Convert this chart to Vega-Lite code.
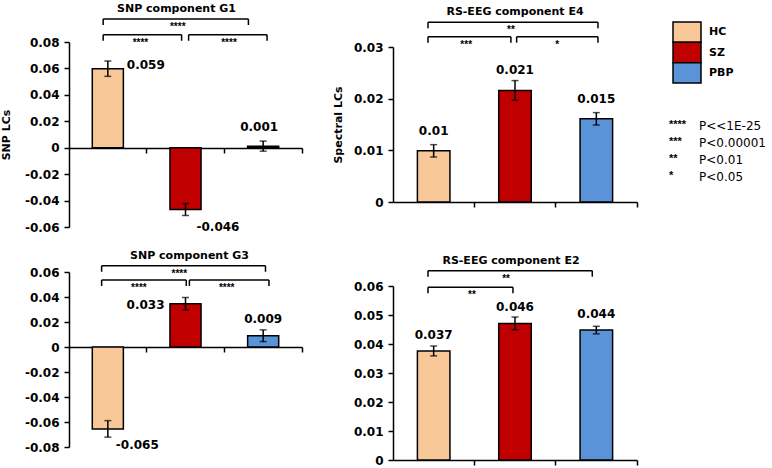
{
"$schema": "https://vega.github.io/schema/vega-lite/v6.json",
"background": "white",
"padding": {"left": 0, "top": 3, "right": 0, "bottom": 0},
"autosize": {"type": "pad"},
"datasets": {
 "groups": [{"group":"HC"},{"group":"SZ"},{"group":"PBP"}],
 "g1": [{"group":"HC","value":0.0598,"se":0.0058,"label":"0.059"},{"group":"SZ","value":-0.0468,"se":0.0045,"label":"-0.046"},{"group":"PBP","value":0.0012,"se":0.0038,"label":"0.001"}],
 "g1_sig": [{"from":"HC","to":"PBP","value":0.0974,"stars":"****"},{"from":"HC","to":"SZ","value":0.0855,"stars":"****"},{"from":"SZ","to":"PBP","value":0.0855,"stars":"****"}],
 "e4": [{"group":"HC","value":0.0099,"se":0.0012,"label":"0.01"},{"group":"SZ","value":0.0216,"se":0.0019,"label":"0.021"},{"group":"PBP","value":0.0161,"se":0.0012,"label":"0.015"}],
 "e4_sig": [{"from":"HC","to":"PBP","value":0.0348,"stars":"**"},{"from":"HC","to":"SZ","value":0.032,"stars":"***"},{"from":"SZ","to":"PBP","value":0.032,"stars":"*"}],
 "g3": [{"group":"HC","value":-0.0655,"se":0.0066,"label":"-0.065"},{"group":"SZ","value":0.0346,"se":0.005,"label":"0.033"},{"group":"PBP","value":0.009,"se":0.0047,"label":"0.009"}],
 "g3_sig": [{"from":"HC","to":"PBP","value":0.065,"stars":"****"},{"from":"HC","to":"SZ","value":0.0536,"stars":"****"},{"from":"SZ","to":"PBP","value":0.0536,"stars":"****"}],
 "e2": [{"group":"HC","value":0.0376,"se":0.0017,"label":"0.037"},{"group":"SZ","value":0.0471,"se":0.0022,"label":"0.046"},{"group":"PBP","value":0.0448,"se":0.0013,"label":"0.044"}],
 "e2_sig": [{"from":"HC","to":"PBP","value":0.0653,"stars":"**"},{"from":"HC","to":"SZ","value":0.05955,"stars":"**"}],
 "sigkey": [{"stars":"****","label":"P<<1E-25"},{"stars":"***","label":"P<0.00001"},{"stars":"**","label":"P<0.01"},{"stars":"*","label":"P<0.05"}]
},
"config": {
 "view": {"stroke": null},
 "axis": {"labelFont":"DejaVu Sans","labelFontWeight":"bold","labelFontSize":12,"labelColor":"black","labelPadding":5,"domainColor":"black","domainWidth":1.5,"tickColor":"black","tickWidth":1.5,"tickSize":5,"grid":false,"titleFont":"DejaVu Sans","titleFontWeight":"bold","titleFontSize":11,"titleColor":"black"},
 "title": {"font":"DejaVu Sans","fontWeight":"bold","fontSize":11,"color":"black","anchor":"middle"}
},
"bounds": "flush",
"columns": 3,
"spacing": {"row": 45, "column": 91},
"concat": [
   {"width":233,"height":185,"title":{"text":"SNP component G1","offset":4,"dx":-9},
    "encoding":{"y":{"field":"value","type":"quantitative","scale":{"domain":[-0.06,0.08],"nice":false},"axis":{"values":[-0.06,-0.04,-0.02,0,0.02,0.04,0.06,0.08],"format":"~g","labelExpr":"replace(datum.label,'−','-')","title":"SNP LCs","titlePadding":13}}},
    "layer":[
     {"data":{"name":"g1"},"mark":{"type":"bar","width":{"band":0.4},"stroke":"black","strokeWidth":1.5},
      "encoding":{"x":{"field":"group","type":"nominal","title":null,"scale":{"domain":["HC","SZ","PBP"],"paddingInner":0,"paddingOuter":0},"axis":{"labels":false,"title":null,"bandPosition":1,"offset":-79}},
       "color":{"field":"group","type":"nominal","scale":{"domain":["HC","SZ","PBP"],"range":["#F9C898","#C00000","#5B93D8"]},"legend":null}}},
     {"data":{"name":"g1"},"mark":{"type":"errorbar","ticks":{"size":7},"color":"black","thickness":1.5},
      "encoding":{"x":{"field":"group","type":"nominal","title":null,"scale":{"domain":["HC","SZ","PBP"],"paddingInner":0,"paddingOuter":0}},"yError":{"field":"se"}}},
     {"data":{"name":"g1"},"transform":[{"filter":"datum.group=='HC'"}],"mark":{"type":"text","align":"left","dx":19,"dy":0,"baseline":"alphabetic","font":"DejaVu Sans","fontWeight":"bold","fontSize":12},
      "encoding":{"x":{"field":"group","type":"nominal","title":null,"scale":{"domain":["HC","SZ","PBP"],"paddingInner":0,"paddingOuter":0}},"text":{"field":"label"}}},
     {"data":{"name":"g1"},"transform":[{"filter":"datum.group=='SZ'"}],"mark":{"type":"text","align":"left","dx":11,"dy":21,"baseline":"alphabetic","font":"DejaVu Sans","fontWeight":"bold","fontSize":12},
      "encoding":{"x":{"field":"group","type":"nominal","title":null,"scale":{"domain":["HC","SZ","PBP"],"paddingInner":0,"paddingOuter":0}},"text":{"field":"label"}}},
     {"data":{"name":"g1"},"transform":[{"filter":"datum.group=='PBP'"}],"mark":{"type":"text","align":"center","dx":-4,"dy":-15,"baseline":"alphabetic","font":"DejaVu Sans","fontWeight":"bold","fontSize":12},
      "encoding":{"x":{"field":"group","type":"nominal","title":null,"scale":{"domain":["HC","SZ","PBP"],"paddingInner":0,"paddingOuter":0}},"text":{"field":"label"}}},
     {"data":{"name":"g1_sig"},"transform":[{"filter":"datum.from=='HC' && datum.to=='PBP'"}],"layer":[
      {"mark":{"type":"rule","color":"black","strokeWidth":1.5},"encoding":{"x":{"field":"from","type":"nominal","bandPosition":0.44,"title":null,"scale":{"domain":["HC","SZ","PBP"],"paddingInner":0,"paddingOuter":0}},"x2":{"field":"to","bandPosition":0.31}}},
      {"mark":{"type":"rule","color":"black","strokeWidth":1.5,"y2Offset":6},"encoding":{"x":{"field":"from","type":"nominal","bandPosition":0.44,"title":null,"scale":{"domain":["HC","SZ","PBP"],"paddingInner":0,"paddingOuter":0}},"y2":{"field":"value"}}},
      {"mark":{"type":"rule","color":"black","strokeWidth":1.5,"y2Offset":6},"encoding":{"x":{"field":"to","type":"nominal","bandPosition":0.31,"title":null,"scale":{"domain":["HC","SZ","PBP"],"paddingInner":0,"paddingOuter":0}},"y2":{"field":"value"}}},
      {"mark":{"type":"text","font":"Liberation Sans","fontWeight":"bold","fontSize":10,"dy":11,"baseline":"alphabetic"},"encoding":{"x":{"field":"from","type":"nominal","bandPosition":1.4,"title":null,"scale":{"domain":["HC","SZ","PBP"],"paddingInner":0,"paddingOuter":0}},"text":{"field":"stars"}}}
     ]},
     {"data":{"name":"g1_sig"},"transform":[{"filter":"datum.from=='HC' && datum.to=='SZ'"}],"layer":[
      {"mark":{"type":"rule","color":"black","strokeWidth":1.5},"encoding":{"x":{"field":"from","type":"nominal","bandPosition":0.44,"title":null,"scale":{"domain":["HC","SZ","PBP"],"paddingInner":0,"paddingOuter":0}},"x2":{"field":"to","bandPosition":0.45}}},
      {"mark":{"type":"rule","color":"black","strokeWidth":1.5,"y2Offset":6},"encoding":{"x":{"field":"from","type":"nominal","bandPosition":0.44,"title":null,"scale":{"domain":["HC","SZ","PBP"],"paddingInner":0,"paddingOuter":0}},"y2":{"field":"value"}}},
      {"mark":{"type":"rule","color":"black","strokeWidth":1.5,"y2Offset":6},"encoding":{"x":{"field":"to","type":"nominal","bandPosition":0.45,"title":null,"scale":{"domain":["HC","SZ","PBP"],"paddingInner":0,"paddingOuter":0}},"y2":{"field":"value"}}},
      {"mark":{"type":"text","font":"Liberation Sans","fontWeight":"bold","fontSize":10,"dy":11,"baseline":"alphabetic"},"encoding":{"x":{"field":"from","type":"nominal","bandPosition":0.92,"title":null,"scale":{"domain":["HC","SZ","PBP"],"paddingInner":0,"paddingOuter":0}},"text":{"field":"stars"}}}
     ]},
     {"data":{"name":"g1_sig"},"transform":[{"filter":"datum.from=='SZ' && datum.to=='PBP'"}],"layer":[
      {"mark":{"type":"rule","color":"black","strokeWidth":1.5},"encoding":{"x":{"field":"from","type":"nominal","bandPosition":0.54,"title":null,"scale":{"domain":["HC","SZ","PBP"],"paddingInner":0,"paddingOuter":0}},"x2":{"field":"to","bandPosition":0.55}}},
      {"mark":{"type":"rule","color":"black","strokeWidth":1.5,"y2Offset":6},"encoding":{"x":{"field":"from","type":"nominal","bandPosition":0.54,"title":null,"scale":{"domain":["HC","SZ","PBP"],"paddingInner":0,"paddingOuter":0}},"y2":{"field":"value"}}},
      {"mark":{"type":"rule","color":"black","strokeWidth":1.5,"y2Offset":6},"encoding":{"x":{"field":"to","type":"nominal","bandPosition":0.55,"title":null,"scale":{"domain":["HC","SZ","PBP"],"paddingInner":0,"paddingOuter":0}},"y2":{"field":"value"}}},
      {"mark":{"type":"text","font":"Liberation Sans","fontWeight":"bold","fontSize":10,"dy":11,"baseline":"alphabetic"},"encoding":{"x":{"field":"from","type":"nominal","bandPosition":1.06,"title":null,"scale":{"domain":["HC","SZ","PBP"],"paddingInner":0,"paddingOuter":0}},"text":{"field":"stars"}}}
     ]}
    ]},
    {"width":244,"height":160,"title":{"text":"RS-EEG component E4","offset":4},
     "encoding":{"y":{"field":"value","type":"quantitative","scale":{"domain":[0,0.03],"nice":false,"range":[160,5]},"axis":{"values":[0,0.01,0.02,0.03],"format":"~g","title":"Spectral LCs","titlePadding":10}}},
     "layer":[
      {"data":{"name":"e4"},"mark":{"type":"bar","width":{"band":0.4},"stroke":"black","strokeWidth":1.5},
       "encoding":{"x":{"field":"group","type":"nominal","title":null,"scale":{"domain":["HC","SZ","PBP"],"paddingInner":0,"paddingOuter":0},"axis":{"labels":false,"title":null,"bandPosition":1}},
        "color":{"field":"group","type":"nominal","scale":{"domain":["HC","SZ","PBP"],"range":["#F9C898","#C00000","#5B93D8"]},"legend":null}}},
      {"data":{"name":"e4"},"mark":{"type":"errorbar","ticks":{"size":7},"color":"black","thickness":1.5},
       "encoding":{"x":{"field":"group","type":"nominal","title":null,"scale":{"domain":["HC","SZ","PBP"],"paddingInner":0,"paddingOuter":0}},"yError":{"field":"se"}}},
      {"data":{"name":"e4"},"mark":{"type":"text","align":"center","dy":-16,"baseline":"alphabetic","font":"DejaVu Sans","fontWeight":"bold","fontSize":12},
       "encoding":{"x":{"field":"group","type":"nominal","title":null,"scale":{"domain":["HC","SZ","PBP"],"paddingInner":0,"paddingOuter":0}},"text":{"field":"label"}}},
      {"data":{"name":"e4_sig"},"transform":[{"filter":"datum.from=='HC' && datum.to=='PBP'"}],"layer":[
       {"mark":{"type":"rule","color":"black","strokeWidth":1.5},"encoding":{"x":{"field":"from","type":"nominal","bandPosition":0.43,"title":null,"scale":{"domain":["HC","SZ","PBP"],"paddingInner":0,"paddingOuter":0}},"x2":{"field":"to","bandPosition":0.52}}},
       {"mark":{"type":"rule","color":"black","strokeWidth":1.5,"y2Offset":6},"encoding":{"x":{"field":"from","type":"nominal","bandPosition":0.43,"title":null,"scale":{"domain":["HC","SZ","PBP"],"paddingInner":0,"paddingOuter":0}},"y2":{"field":"value"}}},
       {"mark":{"type":"rule","color":"black","strokeWidth":1.5,"y2Offset":6},"encoding":{"x":{"field":"to","type":"nominal","bandPosition":0.52,"title":null,"scale":{"domain":["HC","SZ","PBP"],"paddingInner":0,"paddingOuter":0}},"y2":{"field":"value"}}},
       {"mark":{"type":"text","font":"Liberation Sans","fontWeight":"bold","fontSize":10,"dy":11,"baseline":"alphabetic"},"encoding":{"x":{"field":"from","type":"nominal","bandPosition":1.45,"title":null,"scale":{"domain":["HC","SZ","PBP"],"paddingInner":0,"paddingOuter":0}},"text":{"field":"stars"}}}
      ]},
      {"data":{"name":"e4_sig"},"transform":[{"filter":"datum.from=='HC' && datum.to=='SZ'"}],"layer":[
       {"mark":{"type":"rule","color":"black","strokeWidth":1.5},"encoding":{"x":{"field":"from","type":"nominal","bandPosition":0.43,"title":null,"scale":{"domain":["HC","SZ","PBP"],"paddingInner":0,"paddingOuter":0}},"x2":{"field":"to","bandPosition":0.45}}},
       {"mark":{"type":"rule","color":"black","strokeWidth":1.5,"y2Offset":6},"encoding":{"x":{"field":"from","type":"nominal","bandPosition":0.43,"title":null,"scale":{"domain":["HC","SZ","PBP"],"paddingInner":0,"paddingOuter":0}},"y2":{"field":"value"}}},
       {"mark":{"type":"rule","color":"black","strokeWidth":1.5,"y2Offset":6},"encoding":{"x":{"field":"to","type":"nominal","bandPosition":0.45,"title":null,"scale":{"domain":["HC","SZ","PBP"],"paddingInner":0,"paddingOuter":0}},"y2":{"field":"value"}}},
       {"mark":{"type":"text","font":"Liberation Sans","fontWeight":"bold","fontSize":10,"dy":11,"baseline":"alphabetic"},"encoding":{"x":{"field":"from","type":"nominal","bandPosition":0.9,"title":null,"scale":{"domain":["HC","SZ","PBP"],"paddingInner":0,"paddingOuter":0}},"text":{"field":"stars"}}}
      ]},
      {"data":{"name":"e4_sig"},"transform":[{"filter":"datum.from=='SZ' && datum.to=='PBP'"}],"layer":[
       {"mark":{"type":"rule","color":"black","strokeWidth":1.5},"encoding":{"x":{"field":"from","type":"nominal","bandPosition":0.52,"title":null,"scale":{"domain":["HC","SZ","PBP"],"paddingInner":0,"paddingOuter":0}},"x2":{"field":"to","bandPosition":0.52}}},
       {"mark":{"type":"rule","color":"black","strokeWidth":1.5,"y2Offset":6},"encoding":{"x":{"field":"from","type":"nominal","bandPosition":0.52,"title":null,"scale":{"domain":["HC","SZ","PBP"],"paddingInner":0,"paddingOuter":0}},"y2":{"field":"value"}}},
       {"mark":{"type":"rule","color":"black","strokeWidth":1.5,"y2Offset":6},"encoding":{"x":{"field":"to","type":"nominal","bandPosition":0.52,"title":null,"scale":{"domain":["HC","SZ","PBP"],"paddingInner":0,"paddingOuter":0}},"y2":{"field":"value"}}},
       {"mark":{"type":"text","font":"Liberation Sans","fontWeight":"bold","fontSize":10,"dy":11,"baseline":"alphabetic"},"encoding":{"x":{"field":"from","type":"nominal","bandPosition":1.02,"title":null,"scale":{"domain":["HC","SZ","PBP"],"paddingInner":0,"paddingOuter":0}},"text":{"field":"stars"}}}
      ]}
     ]},
    {"width":30,"height":185,
     "resolve":{"scale":{"x":"independent","y":"independent"}},
     "layer":[
      {"data":{"name":"groups"},
       "encoding":{"y":{"field":"group","type":"nominal","sort":["HC","SZ","PBP"],"scale":{"range":[-20,41],"paddingInner":0,"paddingOuter":0},"axis":null}},
       "layer":[
        {"mark":{"type":"rect","stroke":"black","strokeWidth":1.5},"encoding":{"x":{"datum":0,"type":"quantitative","scale":{"domain":[0,1],"range":[-55,-27]},"axis":null},"x2":{"datum":1},"color":{"field":"group","type":"nominal","scale":{"domain":["HC","SZ","PBP"],"range":["#F9C898","#C00000","#5B93D8"]},"legend":null}}},
        {"mark":{"type":"text","align":"left","baseline":"middle","dx":8,"font":"DejaVu Sans","fontWeight":"bold","fontSize":11},"encoding":{"x":{"datum":1,"type":"quantitative","scale":{"domain":[0,1],"range":[-55,-27]},"axis":null},"text":{"field":"group"}}}
       ]},
      {"data":{"name":"sigkey"},
       "encoding":{"y":{"field":"label","type":"nominal","sort":null,"scale":{"range":[75,144],"paddingInner":0,"paddingOuter":0},"axis":null}},
       "layer":[
        {"mark":{"type":"text","align":"left","baseline":"middle","font":"Liberation Sans","fontWeight":"bold","fontSize":11,"dy":-1},"encoding":{"x":{"datum":0,"type":"quantitative","scale":{"domain":[0,1],"range":[-59,-29]},"axis":null},"text":{"field":"stars"}}},
        {"mark":{"type":"text","align":"left","baseline":"middle","font":"DejaVu Sans","fontSize":12},"encoding":{"x":{"datum":1,"type":"quantitative","scale":{"domain":[0,1],"range":[-59,-29]},"axis":null},"text":{"field":"label"}}}
       ]}
     ]},
   {"width":233,"height":175,"title":{"text":"SNP component G3","offset":4,"dx":4},
    "encoding":{"y":{"field":"value","type":"quantitative","scale":{"domain":[-0.08,0.06],"nice":false},"axis":{"values":[-0.08,-0.06,-0.04,-0.02,0,0.02,0.04,0.06],"format":"~g","labelExpr":"replace(datum.label,'−','-')","title":null}}},
    "layer":[
     {"data":{"name":"g3"},"mark":{"type":"bar","width":{"band":0.4},"stroke":"black","strokeWidth":1.5},
      "encoding":{"x":{"field":"group","type":"nominal","title":null,"scale":{"domain":["HC","SZ","PBP"],"paddingInner":0,"paddingOuter":0},"axis":{"labels":false,"title":null,"bandPosition":1,"offset":-100}},
       "color":{"field":"group","type":"nominal","scale":{"domain":["HC","SZ","PBP"],"range":["#F9C898","#C00000","#5B93D8"]},"legend":null}}},
     {"data":{"name":"g3"},"mark":{"type":"errorbar","ticks":{"size":7},"color":"black","thickness":1.5},
      "encoding":{"x":{"field":"group","type":"nominal","title":null,"scale":{"domain":["HC","SZ","PBP"],"paddingInner":0,"paddingOuter":0}},"yError":{"field":"se"}}},
     {"data":{"name":"g3"},"transform":[{"filter":"datum.group=='HC'"}],"mark":{"type":"text","align":"left","dx":8,"dy":20,"baseline":"alphabetic","font":"DejaVu Sans","fontWeight":"bold","fontSize":12},
      "encoding":{"x":{"field":"group","type":"nominal","title":null,"scale":{"domain":["HC","SZ","PBP"],"paddingInner":0,"paddingOuter":0}},"text":{"field":"label"}}},
     {"data":{"name":"g3"},"transform":[{"filter":"datum.group=='SZ'"}],"mark":{"type":"text","align":"right","dx":-21,"dy":5,"baseline":"alphabetic","font":"DejaVu Sans","fontWeight":"bold","fontSize":12},
      "encoding":{"x":{"field":"group","type":"nominal","title":null,"scale":{"domain":["HC","SZ","PBP"],"paddingInner":0,"paddingOuter":0}},"text":{"field":"label"}}},
     {"data":{"name":"g3"},"transform":[{"filter":"datum.group=='PBP'"}],"mark":{"type":"text","align":"center","dx":0,"dy":-13,"baseline":"alphabetic","font":"DejaVu Sans","fontWeight":"bold","fontSize":12},
      "encoding":{"x":{"field":"group","type":"nominal","title":null,"scale":{"domain":["HC","SZ","PBP"],"paddingInner":0,"paddingOuter":0}},"text":{"field":"label"}}},
     {"data":{"name":"g3_sig"},"transform":[{"filter":"datum.from=='HC' && datum.to=='PBP'"}],"layer":[
      {"mark":{"type":"rule","color":"black","strokeWidth":1.5},"encoding":{"x":{"field":"from","type":"nominal","bandPosition":0.42,"title":null,"scale":{"domain":["HC","SZ","PBP"],"paddingInner":0,"paddingOuter":0}},"x2":{"field":"to","bandPosition":0.53}}},
      {"mark":{"type":"rule","color":"black","strokeWidth":1.5,"y2Offset":6},"encoding":{"x":{"field":"from","type":"nominal","bandPosition":0.42,"title":null,"scale":{"domain":["HC","SZ","PBP"],"paddingInner":0,"paddingOuter":0}},"y2":{"field":"value"}}},
      {"mark":{"type":"rule","color":"black","strokeWidth":1.5,"y2Offset":6},"encoding":{"x":{"field":"to","type":"nominal","bandPosition":0.53,"title":null,"scale":{"domain":["HC","SZ","PBP"],"paddingInner":0,"paddingOuter":0}},"y2":{"field":"value"}}},
      {"mark":{"type":"text","font":"Liberation Sans","fontWeight":"bold","fontSize":10,"dy":11,"baseline":"alphabetic"},"encoding":{"x":{"field":"from","type":"nominal","bandPosition":1.42,"title":null,"scale":{"domain":["HC","SZ","PBP"],"paddingInner":0,"paddingOuter":0}},"text":{"field":"stars"}}}
     ]},
     {"data":{"name":"g3_sig"},"transform":[{"filter":"datum.from=='HC' && datum.to=='SZ'"}],"layer":[
      {"mark":{"type":"rule","color":"black","strokeWidth":1.5},"encoding":{"x":{"field":"from","type":"nominal","bandPosition":0.42,"title":null,"scale":{"domain":["HC","SZ","PBP"],"paddingInner":0,"paddingOuter":0}},"x2":{"field":"to","bandPosition":0.51}}},
      {"mark":{"type":"rule","color":"black","strokeWidth":1.5,"y2Offset":6},"encoding":{"x":{"field":"from","type":"nominal","bandPosition":0.42,"title":null,"scale":{"domain":["HC","SZ","PBP"],"paddingInner":0,"paddingOuter":0}},"y2":{"field":"value"}}},
      {"mark":{"type":"rule","color":"black","strokeWidth":1.5,"y2Offset":6},"encoding":{"x":{"field":"to","type":"nominal","bandPosition":0.51,"title":null,"scale":{"domain":["HC","SZ","PBP"],"paddingInner":0,"paddingOuter":0}},"y2":{"field":"value"}}},
      {"mark":{"type":"text","font":"Liberation Sans","fontWeight":"bold","fontSize":10,"dy":11,"baseline":"alphabetic"},"encoding":{"x":{"field":"from","type":"nominal","bandPosition":0.9,"title":null,"scale":{"domain":["HC","SZ","PBP"],"paddingInner":0,"paddingOuter":0}},"text":{"field":"stars"}}}
     ]},
     {"data":{"name":"g3_sig"},"transform":[{"filter":"datum.from=='SZ' && datum.to=='PBP'"}],"layer":[
      {"mark":{"type":"rule","color":"black","strokeWidth":1.5},"encoding":{"x":{"field":"from","type":"nominal","bandPosition":0.55,"title":null,"scale":{"domain":["HC","SZ","PBP"],"paddingInner":0,"paddingOuter":0}},"x2":{"field":"to","bandPosition":0.575}}},
      {"mark":{"type":"rule","color":"black","strokeWidth":1.5,"y2Offset":6},"encoding":{"x":{"field":"from","type":"nominal","bandPosition":0.55,"title":null,"scale":{"domain":["HC","SZ","PBP"],"paddingInner":0,"paddingOuter":0}},"y2":{"field":"value"}}},
      {"mark":{"type":"rule","color":"black","strokeWidth":1.5,"y2Offset":6},"encoding":{"x":{"field":"to","type":"nominal","bandPosition":0.575,"title":null,"scale":{"domain":["HC","SZ","PBP"],"paddingInner":0,"paddingOuter":0}},"y2":{"field":"value"}}},
      {"mark":{"type":"text","font":"Liberation Sans","fontWeight":"bold","fontSize":10,"dy":11,"baseline":"alphabetic"},"encoding":{"x":{"field":"from","type":"nominal","bandPosition":1.03,"title":null,"scale":{"domain":["HC","SZ","PBP"],"paddingInner":0,"paddingOuter":0}},"text":{"field":"stars"}}}
     ]}
    ]},
   {"width":244,"height":188,"title":{"text":"RS-EEG component E2","offset":4,"dx":-4},
    "encoding":{"y":{"field":"value","type":"quantitative","scale":{"domain":[0,0.06],"nice":false,"range":[188,14]},"axis":{"values":[0,0.01,0.02,0.03,0.04,0.05,0.06],"format":"~g","title":null}}},
    "layer":[
     {"data":{"name":"e2"},"mark":{"type":"bar","width":{"band":0.4},"stroke":"black","strokeWidth":1.5},
      "encoding":{"x":{"field":"group","type":"nominal","title":null,"scale":{"domain":["HC","SZ","PBP"],"paddingInner":0,"paddingOuter":0},"axis":{"labels":false,"title":null,"bandPosition":1}},
       "color":{"field":"group","type":"nominal","scale":{"domain":["HC","SZ","PBP"],"range":["#F9C898","#C00000","#5B93D8"]},"legend":null}}},
     {"data":{"name":"e2"},"mark":{"type":"errorbar","ticks":{"size":7},"color":"black","thickness":1.5},
      "encoding":{"x":{"field":"group","type":"nominal","title":null,"scale":{"domain":["HC","SZ","PBP"],"paddingInner":0,"paddingOuter":0}},"yError":{"field":"se"}}},
     {"data":{"name":"e2"},"mark":{"type":"text","align":"center","dy":-12,"baseline":"alphabetic","font":"DejaVu Sans","fontWeight":"bold","fontSize":12},
      "encoding":{"x":{"field":"group","type":"nominal","title":null,"scale":{"domain":["HC","SZ","PBP"],"paddingInner":0,"paddingOuter":0}},"text":{"field":"label"}}},
     {"data":{"name":"e2_sig"},"transform":[{"filter":"datum.from=='HC' && datum.to=='PBP'"}],"layer":[
      {"mark":{"type":"rule","color":"black","strokeWidth":1.5},"encoding":{"x":{"field":"from","type":"nominal","bandPosition":0.43,"title":null,"scale":{"domain":["HC","SZ","PBP"],"paddingInner":0,"paddingOuter":0}},"x2":{"field":"to","bandPosition":0.45}}},
      {"mark":{"type":"rule","color":"black","strokeWidth":1.5,"y2Offset":6},"encoding":{"x":{"field":"from","type":"nominal","bandPosition":0.43,"title":null,"scale":{"domain":["HC","SZ","PBP"],"paddingInner":0,"paddingOuter":0}},"y2":{"field":"value"}}},
      {"mark":{"type":"rule","color":"black","strokeWidth":1.5,"y2Offset":6},"encoding":{"x":{"field":"to","type":"nominal","bandPosition":0.45,"title":null,"scale":{"domain":["HC","SZ","PBP"],"paddingInner":0,"paddingOuter":0}},"y2":{"field":"value"}}},
      {"mark":{"type":"text","font":"Liberation Sans","fontWeight":"bold","fontSize":10,"dy":11,"baseline":"alphabetic"},"encoding":{"x":{"field":"from","type":"nominal","bandPosition":1.39,"title":null,"scale":{"domain":["HC","SZ","PBP"],"paddingInner":0,"paddingOuter":0}},"text":{"field":"stars"}}}
     ]},
     {"data":{"name":"e2_sig"},"transform":[{"filter":"datum.from=='HC' && datum.to=='SZ'"}],"layer":[
      {"mark":{"type":"rule","color":"black","strokeWidth":1.5},"encoding":{"x":{"field":"from","type":"nominal","bandPosition":0.43,"title":null,"scale":{"domain":["HC","SZ","PBP"],"paddingInner":0,"paddingOuter":0}},"x2":{"field":"to","bandPosition":0.475}}},
      {"mark":{"type":"rule","color":"black","strokeWidth":1.5,"y2Offset":6},"encoding":{"x":{"field":"from","type":"nominal","bandPosition":0.43,"title":null,"scale":{"domain":["HC","SZ","PBP"],"paddingInner":0,"paddingOuter":0}},"y2":{"field":"value"}}},
      {"mark":{"type":"rule","color":"black","strokeWidth":1.5,"y2Offset":6},"encoding":{"x":{"field":"to","type":"nominal","bandPosition":0.475,"title":null,"scale":{"domain":["HC","SZ","PBP"],"paddingInner":0,"paddingOuter":0}},"y2":{"field":"value"}}},
      {"mark":{"type":"text","font":"Liberation Sans","fontWeight":"bold","fontSize":10,"dy":11,"baseline":"alphabetic"},"encoding":{"x":{"field":"from","type":"nominal","bandPosition":0.97,"title":null,"scale":{"domain":["HC","SZ","PBP"],"paddingInner":0,"paddingOuter":0}},"text":{"field":"stars"}}}
     ]}
    ]}
]
}
